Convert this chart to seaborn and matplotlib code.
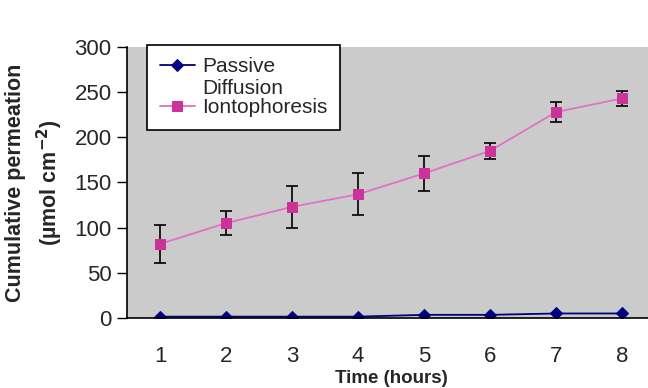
"""Cumulative permeation over time: passive diffusion vs iontophoresis."""

import matplotlib
matplotlib.use("Agg")
import matplotlib.pyplot as plt
import pandas as pd
import seaborn as sns

hours = [1, 2, 3, 4, 5, 6, 7, 8]
passive = [1.5, 1.5, 1.5, 1.5, 3.5, 3.5, 5, 5]
ionto = [82, 105, 123, 137, 160, 185, 228, 243]
ionto_err = [21, 13, 23, 23, 19, 9, 11, 8]

series_labels = ["Passive\nDiffusion", "Iontophoresis"]
series_colors = ["#000080", "#CC3399"]
line_colors = ["#000080", "#E070C8"]

sns.set_style("white")
plt.rcParams["font.family"] = ["Liberation Sans", "DejaVu Sans"]

fig = plt.figure(figsize=(6.48, 3.88), dpi=100)
ax = fig.add_axes([127 / 648, 1 - 318 / 388, 528 / 648, 271 / 388])
ax.set_facecolor("#CBCBCB")

df = pd.DataFrame({"time": hours * 2,
                   "value": passive + ionto,
                   "series": [series_labels[0]] * 8 + [series_labels[1]] * 8})

for lab, mk, ms, lc, mc in zip(series_labels, ["D", "s"], [6.5, 7], line_colors, series_colors):
    sub = df[df["series"] == lab]
    sns.lineplot(data=sub, x="time", y="value", ax=ax, color=lc, lw=1.3,
                 marker=mk, markersize=ms, markerfacecolor=mc,
                 markeredgecolor=mc, label=lab)

ax.errorbar(hours, ionto, yerr=ionto_err, fmt="none", ecolor="black",
            elinewidth=1.2, capsize=4, capthick=1.2, zorder=1)

ax.set_xlim(0.5, 8.5)
ax.set_ylim(0, 300)
ax.set_yticks([0, 50, 100, 150, 200, 250, 300])
ax.set_xticks(hours)
ax.set_xticks([h + 0.5 for h in range(0, 8)], minor=True)
ax.tick_params(axis="x", which="major", length=0, pad=20, labelsize=16)
ax.tick_params(axis="x", which="minor", length=7, width=1, direction="out", color="black")
ax.tick_params(axis="y", length=7, width=1, direction="out", color="black",
               labelsize=16, left=True, pad=4)

for side in ["top", "right"]:
    ax.spines[side].set_visible(False)
for side in ["left", "bottom"]:
    ax.spines[side].set_color("black")
    ax.spines[side].set_linewidth(1.2)

ax.set_xlabel("Time (hours)", fontsize=13.5, fontweight="bold", labelpad=2)
ax.set_ylabel("Cumulative permeation\n(µmol cm$^{\\mathbf{-2}}$)", fontsize=15.5,
              fontweight="bold", labelpad=7, linespacing=1.4)

leg = ax.legend(loc="upper left", bbox_to_anchor=(0.038, 1.008), fontsize=15,
                frameon=True, fancybox=False, framealpha=1, edgecolor="black",
                handlelength=1.7, labelspacing=0.0, borderpad=0.6,
                handletextpad=0.35, borderaxespad=0)
leg.get_frame().set_linewidth(1.2)
# put the first handle next to the top line of its two-line label
for row in leg._legend_handle_box.get_children()[0].get_children():
    row.align = "top"

fig.savefig("out.png", dpi=100)
plt.close()
